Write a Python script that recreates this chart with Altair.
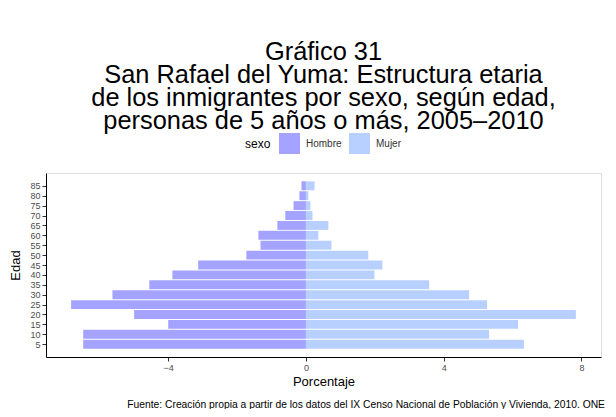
import altair as alt
import pandas as pd

edad = [5, 10, 15, 20, 25, 30, 35, 40, 45, 50, 55, 60, 65, 70, 75, 80, 85]
hombre = [-6.47, -6.47, -4.00, -4.99, -6.82, -5.62, -4.55, -3.88, -3.13,
          -1.73, -1.32, -1.38, -0.83, -0.60, -0.36, -0.19, -0.13]
mujer = [6.33, 5.32, 6.16, 7.84, 5.26, 4.74, 3.58, 1.99, 2.22,
         1.81, 0.74, 0.36, 0.65, 0.19, 0.13, 0.07, 0.25]
sexos = ["Hombre", "Mujer"]
colores = ["#a4a3ff", "#b8d0ff"]
x_ticks = [-4, 0, 4, 8]
titulo = ["Gráfico 31",
          "San Rafael del Yuma: Estructura etaria",
          "de los inmigrantes por sexo, según edad,",
          "personas de 5 años o más, 2005\u20132010"]
fuente = ("Fuente: Creación propia a partir de los datos del IX Censo Nacional "
          "de Población y Vivienda, 2010. ONE")

rows = []
for e, h, m in zip(edad, hombre, mujer):
    rows.append({"edad": e, "sexo": "Hombre", "pct": h})
    rows.append({"edad": e, "sexo": "Mujer", "pct": m})
df = pd.DataFrame(rows)

FONT = "Liberation Sans"

axis_common = dict(grid=False, labelFontSize=9, labelColor="#4d4d4d",
                   tickColor="#333333", tickSize=4, domainColor="#000000",
                   titleFontSize=13, titleFontWeight="normal",
                   titleColor="#000000", labelPadding=2,
                   labelFont=FONT, titleFont=FONT)

bars = alt.Chart(df).transform_calculate(
    y0="datum.edad - 2.25", y1="datum.edad + 2.25", x0="0"
).mark_bar().encode(
    x=alt.X("pct:Q", title="Porcentaje",
            scale=alt.Scale(domain=[-7.55, 8.57], nice=False, zero=False),
            axis=alt.Axis(values=x_ticks, titlePadding=3, **axis_common)),
    x2="x0:Q",
    y=alt.Y("y0:Q", title="Edad",
            scale=alt.Scale(domain=[-1.475, 91.475], nice=False, zero=False),
            axis=alt.Axis(values=edad, titlePadding=7, **axis_common)),
    y2="y1:Q",
    color=alt.Color("sexo:N", title="sexo",
                    scale=alt.Scale(domain=sexos, range=colores),
                    legend=alt.Legend(orient="none", legendX=199, legendY=-40,
                                      direction="horizontal", titleOrient="left",
                                      symbolType="square", symbolSize=441,
                                      symbolStrokeWidth=0, symbolOpacity=1,
                                      labelFontSize=10, titleFontSize=12,
                                      titleFontWeight="normal", titlePadding=8,
                                      labelOffset=6, columnPadding=7,
                                      labelColor="#333333", titleColor="#000000",
                                      labelFont=FONT, titleFont=FONT)),
)

caption = alt.Chart(pd.DataFrame({"t": [fuente]})).mark_text(
    align="right", baseline="middle", fontSize=10.3, font=FONT, color="#000000"
).encode(text="t:N", x=alt.value(559), y=alt.value(232))

chart = alt.layer(bars, caption).properties(
    width=555, height=184,
    autosize=alt.AutoSizeParams(type="none"),
    padding={"left": 38, "top": 165, "right": 7, "bottom": 52},
    title=alt.Title(titulo, anchor="middle", fontSize=25.4, lineHeight=22.9,
                    font=FONT, fontWeight="normal", color="#000000",
                    offset=-1, frame="group"),
).configure_view(stroke=None).configure(background="white")

chart.save("out.html", embed_options={"renderer": "svg", "actions": False})
